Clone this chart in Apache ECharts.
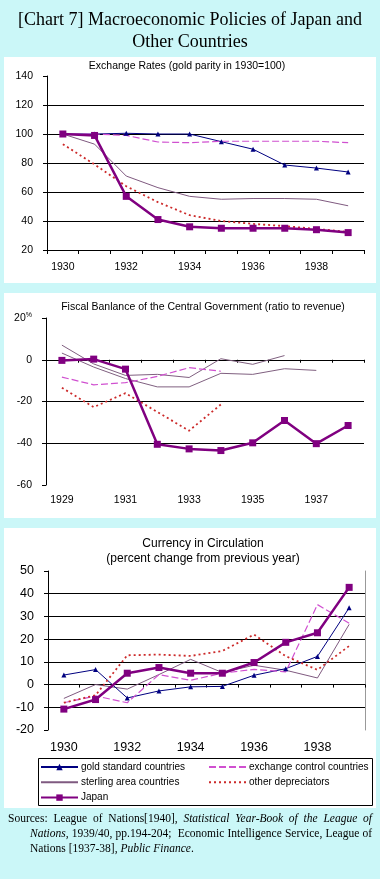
<!DOCTYPE html>
<html><head><meta charset="utf-8">
<script src="https://cdn.jsdelivr.net/npm/echarts@6/dist/echarts.min.js"></script>
<style>
html,body{margin:0;padding:0;background:#cbf7f8;}
#c{position:absolute;left:0;top:0;width:380px;height:879px;}
#src{position:absolute;left:8px;top:811px;width:364px;font:11.5px 'Liberation Serif','Times New Roman',serif;line-height:15px;color:#000;}
.l{text-align:justify;text-align-last:justify;white-space:nowrap;}
.i{padding-left:22px;}
</style></head><body>
<div id="c"></div>
<div id="src">
<div class="l">Sources: League of Nations[1940], <i>Statistical Year-Book of the League of</i></div>
<div class="l i"><i>Nations</i>, 1939/40, pp.194-204;&nbsp; Economic Intelligence Service, League of</div>
<div class="i">Nations [1937-38], <i>Public Finance</i>.</div>
</div>
<script>
// ---- data ----
const years1 = ['1930','1931','1932','1933','1934','1935','1936','1937','1938','1939'];
const years2 = ['1929','1930','1931','1932','1933','1934','1935','1936','1937','1938'];

// Exchange rates (gold parity in 1930 = 100)
const erGold     = [100, 100, 100.5, 100, 100, 94.7, 89.5, 78.6, 76.5, 73.8];
const erExch     = [100, 100, 99, 94.5, 94, 95, 95, 95, 95, 94];
const erSterling = [100, 93, 71, 63, 57, 55, 55.5, 55.5, 55, 50.5];
const erOther    = [93, 79, 64, 53, 44, 40, 38, 36.5, 34.5, 32.5];
const erJapan    = [100, 99, 57, 41, 36, 35, 35, 35, 34, 32];

// Fiscal balance of the central government (ratio to revenue, %)
const fbGold     = [7, -2, -7.5, -7, -8.5, 0.5, -2.2, 2, '-', '-'];
const fbSterling = [3.2, -3.5, -9, -13, -13, -6.5, -7, -4.3, -5.1, '-'];
const fbExch     = [-8.3, -12, -11, -8, -3.8, -5.5, '-', '-', '-', '-'];
const fbOther    = [-13.4, -22.7, -16, -25, -34, -21.4, '-', '-', '-', '-'];
const fbJapan    = [-0.3, 0.3, -4.5, -40.5, -42.7, -43.5, -39.8, -29.1, -40.2, -31.5];

// Currency in circulation (percent change from previous year)
const ccGold     = [4.2, 6.6, -5.9, -2.8, -1, -0.8, 4.1, 7, 12.4, 33.8];
const ccExch     = [-8, -5, -8, 4.4, 1.9, 5, 6.7, 5.6, 35.2, 27];
const ccSterling = [-6.1, 0, -2, 4.4, 11.1, 5.3, 8.5, 6.3, 2.9, 26.5];
const ccOther    = [-8, -4.7, 12.9, 13.2, 12.6, 14.8, 22, 12.5, 6.5, 17];
const ccJapan    = [-10.8, -6.6, 5, 7.5, 5, 5, 9.7, 18.6, 22.8, 42.8];

const yTicks1 = [20, 140, 20];   // min, max, interval
const yTicks2 = [-60, 20, 20];
const yTicks3 = [-20, 50, 10];

const N = {
  gold: 'gold standard countries',
  exch: 'exchange control countries',
  ster: 'sterling area countries',
  other: 'other depreciators',
  japan: 'Japan'
};
// ---- styles ----
const sans = "'Liberation Sans', Arial, sans-serif";
const serif = "'Liberation Serif', 'Times New Roman', serif";
const COL = {gold:'#000080', exch:'#d050d0', ster:'#7f5a80', other:'#cc2a2a', japan:'#800080', sterMid:'#806080'};

function mk(name, data, g, style) {
  const s = {
    name, type:'line', data, xAxisIndex: g.x, yAxisIndex: g.y,
    symbol: 'none', animation:false, connectNulls:false,
    lineStyle: {color: style.color, width: style.width || 1, type: style.type || 'solid'},
    itemStyle: {color: style.color},
    z: style.z || 2
  };
  if (style.symbol) { s.symbol = style.symbol; s.symbolSize = style.size; s.showSymbol = true; }
  return s;
}
function group(g, d, midStyle) {
  return [
    mk(N.ster, d.ster, g, {color: midStyle ? COL.sterMid : COL.ster, width:1, z:2}),
    mk(N.gold, d.gold, g, midStyle ? {color: COL.sterMid, width:1, z:2} : {color: COL.gold, width:1, symbol:'triangle', size:5, z:3}),
    mk(N.exch, d.exch, g, {color: COL.exch, width:1.2, type:[7,3], z:3}),
    mk(N.other, d.other, g, {color: COL.other, width:1.8, type:[2,3], z:3}),
    mk(N.japan, d.japan, g, {color: COL.japan, width:2.5, symbol:'rect', size:7, z:5})
  ];
}

const axisBlack = {lineStyle:{color:'#000', width:1}};
function yAx(gi, t, fs, fmt) {
  return {
    type:'value', gridIndex: gi, min: t[0], max: t[1], interval: t[2],
    axisLine: {show:true, onZero:false, ...axisBlack},
    axisTick: {show:true, length:4, lineStyle:{color:'#000'}},
    axisLabel: {color:'#000', fontSize: fs, fontFamily: sans, margin: 14, formatter: fmt,
      rich: {a:{fontSize: fs, fontFamily: sans, color:'#000'}, b:{fontSize: 7, fontFamily: sans, color:'#000', verticalAlign:'top', padding:[0,0,6,0]}}},
    splitLine: {show:true, showMinLine:false, showMaxLine:false, lineStyle:{color:'#000', width:1}}
  };
}
const noSym = {opacity: 0};
const legendText = {fontSize:10, fontFamily:sans, color:'#000', padding:[0,0,0,-2]};

const option = {
  backgroundColor: 'transparent',
  animation: false,
  graphic: [
    {type:'rect', z:-10, shape:{x:4, y:57, width:372, height:226}, style:{fill:'#fff'}},
    {type:'rect', z:-10, shape:{x:4, y:293, width:372, height:225}, style:{fill:'#fff'}},
    {type:'rect', z:-10, shape:{x:4, y:528, width:372, height:280}, style:{fill:'#fff'}},
    {type:'rect', z:10, shape:{x:38.5, y:758.5, width:334, height:47}, style:{fill:'none', stroke:'#000', lineWidth:1}},
    {type:'text', x:190, y:20, style:{text:'[Chart 7] Macroeconomic Policies of Japan and', font:'18px ' + serif, fill:'#000', textAlign:'center', textVerticalAlign:'middle', align:'center', verticalAlign:'middle'}},
    {type:'text', x:190, y:42, style:{text:'Other Countries', font:'18px ' + serif, fill:'#000', textAlign:'center', textVerticalAlign:'middle', align:'center', verticalAlign:'middle'}},
    {type:'text', x:187, y:66, style:{text:'Exchange Rates (gold parity in 1930=100)', font:'10.5px ' + sans, fill:'#000', textAlign:'center', textVerticalAlign:'middle', align:'center', verticalAlign:'middle'}},
    {type:'text', x:203, y:307, style:{text:'Fiscal Banlance of the Central Government (ratio to revenue)', font:'10.5px ' + sans, fill:'#000', textAlign:'center', textVerticalAlign:'middle', align:'center', verticalAlign:'middle'}},
    {type:'text', x:203, y:544, style:{text:'Currency in Circulation', font:'12px ' + sans, fill:'#000', textAlign:'center', textVerticalAlign:'middle', align:'center', verticalAlign:'middle'}},
    {type:'text', x:203, y:559, style:{text:'(percent change from previous year)', font:'12px ' + sans, fill:'#000', textAlign:'center', textVerticalAlign:'middle', align:'center', verticalAlign:'middle'}}
  ],
  legend: [
    {left:40, top:762, orient:'vertical', itemWidth:37, itemHeight:8, itemGap:5.3, padding:0,
     data:[N.gold, {name:N.ster, itemStyle:noSym}, N.japan], textStyle:legendText},
    {left:208, top:762, orient:'vertical', itemWidth:37, itemHeight:8, itemGap:5.3, padding:0,
     data:[{name:N.exch, itemStyle:noSym}, {name:N.other, itemStyle:noSym}], textStyle:legendText}
  ],
  grid: [
    {left:47, top:76, width:317, height:174},
    {left:46, top:318, width:318, height:167},
    {left:48, top:571, width:317, height:159}
  ],
  xAxis: [
    {type:'category', gridIndex:0, data:years1, boundaryGap:true,
     axisLine:{show:true, onZero:false, ...axisBlack},
     axisTick:{show:true, interval:0, length:4, lineStyle:{color:'#000'}},
     axisLabel:{interval:1, color:'#000', fontSize:10.5, fontFamily:sans, margin:12}},
    {type:'category', gridIndex:1, data:years2, boundaryGap:true, position:'bottom',
     axisLine:{show:false, onZero:false}, axisTick:{show:false},
     axisLabel:{interval:1, color:'#000', fontSize:10.5, fontFamily:sans, margin:10}},
    {type:'category', gridIndex:1, data:years2, boundaryGap:true,
     axisLine:{show:true, onZero:true, ...axisBlack},
     axisTick:{show:true, inside:true, interval:0, length:3, lineStyle:{color:'#000'}},
     axisLabel:{show:false}},
    {type:'category', gridIndex:2, data:years1, boundaryGap:true, position:'bottom',
     axisLine:{show:false, onZero:false}, axisTick:{show:false},
     axisLabel:{interval:1, color:'#000', fontSize:12.5, fontFamily:sans, margin:11}},
    {type:'category', gridIndex:2, data:years1, boundaryGap:true,
     axisLine:{show:true, onZero:true, ...axisBlack},
     axisTick:{show:true, inside:true, interval:0, length:3, lineStyle:{color:'#000'}},
     axisLabel:{show:false}}
  ],
  yAxis: [
    yAx(0, yTicks1, 10.5),
    yAx(1, yTicks2, 10.5, v => v === 20 ? '{a|20}{b|%}' : String(v)),
    yAx(2, yTicks3, 12.5),
    {type:'value', gridIndex:2, min:yTicks3[0], max:yTicks3[1], position:'right',
     axisLine:{show:true, lineStyle:{color:'#999'}}, axisTick:{show:false}, axisLabel:{show:false}, splitLine:{show:false}}
  ],
  series: [
    ...group({x:0, y:0}, {gold:erGold, exch:erExch, ster:erSterling, other:erOther, japan:erJapan}, false),
    ...group({x:1, y:1}, {gold:fbGold, exch:fbExch, ster:fbSterling, other:fbOther, japan:fbJapan}, true),
    ...group({x:3, y:2}, {gold:ccGold, exch:ccExch, ster:ccSterling, other:ccOther, japan:ccJapan}, false)
  ]
};
const chart = echarts.init(document.getElementById('c'));
chart.setOption(option);
</script>
</body></html>
